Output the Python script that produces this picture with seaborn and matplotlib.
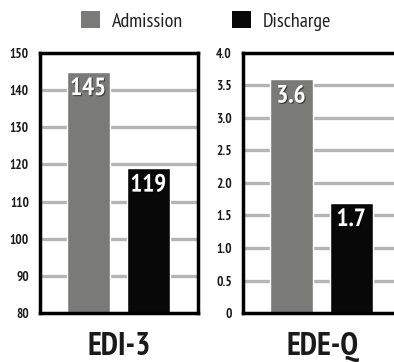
import matplotlib
matplotlib.use("Agg")
import matplotlib.pyplot as plt
import matplotlib.patheffects as pe
from matplotlib.patches import Patch
import seaborn as sns
import pandas as pd

# Scores at admission and discharge for two eating-disorder instruments
timepoints = ["Admission", "Discharge"]
edi3_scores = [145, 119]
edeq_scores = [3.6, 1.7]
edi3_ticks = [80, 90, 100, 110, 120, 130, 140, 150]
edeq_ticks = [0, 0.5, 1.0, 1.5, 2.0, 2.5, 3.0, 3.5, 4.0]
edeq_tick_labels = ["0", "0.5", "1.0", "1.5", "2.0", "2.5", "3.0", "3.5", "4.0"]
edi3_value_labels = ["145", "119"]
edeq_value_labels = ["3.6", "1.7"]
panel_titles = ["EDI-3", "EDE-Q"]

sns.set_theme(style="white")
plt.rcParams["font.family"] = ["PT Sans Narrow", "Roboto Condensed", "DejaVu Sans"]

colors = {"Admission": "#7a7a78", "Discharge": "#080808"}
grid_color = "#b5b5b5"

fig = plt.figure(figsize=(3.94, 3.62), dpi=100)
ax1 = fig.add_axes([40 / 394, 1 - 313 / 362, 158 / 394, 260 / 362])
ax2 = fig.add_axes([243 / 394, 1 - 313 / 362, 158 / 394, 260 / 362])


def draw_panel(ax, values, labels, ticks, tick_labels, ylim, title):
    df = pd.DataFrame({"timepoint": timepoints, "score": values})
    sns.barplot(data=df, x="timepoint", y="score", hue="timepoint",
                palette=colors, width=0.717, ax=ax, legend=False,
                saturation=1, zorder=3)
    ax.set_xlim(-0.8, 1.83)
    ax.set_ylim(*ylim)
    ax.set_yticks(ticks)
    ax.set_yticklabels(tick_labels, fontsize=9.5, fontweight="bold", color="#1a1a1a")
    ax.tick_params(axis="y", length=0, pad=8)
    ax.set_xticks([])
    ax.set_xlabel("")
    ax.set_ylabel("")
    for t in ticks[1:-1]:
        ax.axhline(t, color=grid_color, lw=2.4, zorder=1)
    for side in ["left", "right", "top", "bottom"]:
        ax.spines[side].set_visible(True)
        ax.spines[side].set_color("black")
        ax.spines[side].set_linewidth(2.5)
        ax.spines[side].set_zorder(5)
    for i, (v, lab) in enumerate(zip(values, labels)):
        ax.annotate(lab, xy=(i, v), xytext=(0, -17), textcoords="offset pixels",
                    ha="center", va="center", color="white", fontsize=18,
                    fontweight="bold", zorder=6,
                    bbox=dict(boxstyle="square,pad=0.05", fc=colors[timepoints[i]], ec="none"),
                    path_effects=[pe.withSimplePatchShadow(offset=(0.8, -0.8),
                                                           shadow_rgbFace="#000000", alpha=0.5)])
    ax.text(0.5, -0.162, title, transform=ax.transAxes, ha="center", va="baseline",
            fontsize=23, fontweight="bold", color="#1a1a1a")


draw_panel(ax1, edi3_scores, edi3_value_labels, edi3_ticks,
           [str(t) for t in edi3_ticks], (80, 150), panel_titles[0])
draw_panel(ax2, edeq_scores, edeq_value_labels, edeq_ticks,
           edeq_tick_labels, (0, 4.0), panel_titles[1])

handles = [Patch(facecolor=colors[t], edgecolor="none", label=t) for t in timepoints]
fig.legend(handles=handles, loc="center", bbox_to_anchor=(206 / 394, 1 - 21 / 362),
           ncol=2, frameon=False, fontsize=14.5, handlelength=0.95, handleheight=0.85,
           handletextpad=0.6, columnspacing=2.4, labelcolor="#222222")

fig.savefig("out.png", dpi=100)
